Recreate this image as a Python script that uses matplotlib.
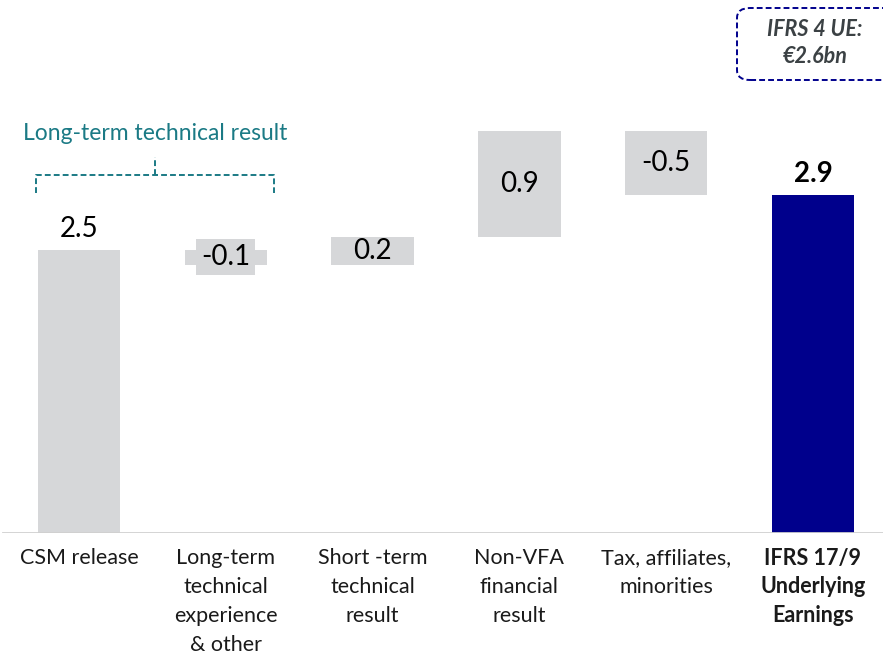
import numpy as np
import matplotlib.pyplot as plt
from matplotlib.patches import FancyBboxPatch

plt.rcParams['font.family'] = ['Lato', 'DejaVu Sans']

# data
categories = ["CSM release", "Long-term\ntechnical\nexperience\n& other",
              "Short -term\ntechnical\nresult", "Non-VFA\nfinancial\nresult",
              "Tax, affiliates,\nminorities", "IFRS 17/9\nUnderlying\nEarnings"]
steps = [2.43, -0.13, 0.24, 0.91, -0.55]
total = 2.9
value_labels = ["2.5", "-0.1", "0.2", "0.9", "-0.5", "2.9"]

grey = '#D6D7D9'
navy = '#00008C'
teal = '#1B7A85'

ends = np.cumsum(steps)
starts = np.concatenate([[0], ends[:-1]])
bottoms = np.minimum(starts, ends)
heights = np.abs(steps)

fig = plt.figure(figsize=(8.83, 6.55), dpi=100)
ax = fig.add_axes([0, 122 / 655, 1, 533 / 655])

x = np.arange(len(categories))
w = 0.56
ax.bar(x[:-1], heights, bottom=bottoms, width=w, color=grey)
ax.bar(x[-1], total, width=w, color=navy)

ax.set_xlim(-79 / 146.8, -79 / 146.8 + 883 / 146.8)
ax.set_ylim(0, 533 / 116.6)

# value labels
fs = 20
ax.text(x[0], ends[0] + 0.18, value_labels[0], ha='center', va='center', fontsize=fs)
ax.text(x[1], (starts[1] + ends[1]) / 2, value_labels[1], ha='center', va='center',
        fontsize=fs, bbox=dict(boxstyle='square,pad=0.18', fc=grey, ec='none'))
for i in (2, 3, 4):
    ax.text(x[i], (starts[i] + ends[i]) / 2, value_labels[i], ha='center', va='center', fontsize=fs)
ax.text(x[-1], total + 0.18, value_labels[-1], ha='center', va='center',
        fontsize=fs, fontweight='bold')

# axis styling
for s in ax.spines.values():
    s.set_visible(False)
ax.axhline(0, xmin=3 / 883, xmax=1, color='#D0D0D0', lw=2)
ax.set_yticks([])
ax.set_xticks(x)
ax.set_xticklabels(categories, fontsize=15.5, linespacing=1.55, color='#1a1a1a')
last = ax.get_xticklabels()[-1]
last.set_fontweight('bold')
last.set_linespacing(1.42)
ax.tick_params(axis='x', length=0, pad=11)

# bracket for long-term technical result
bx0, bx1 = x[0] - w / 2 - 0.015, x[1] + w / 2 + 0.05
by, byend, bytop = 3.07, 2.92, 3.225
ls = (0, (3, 1.6))
ax.plot([bx0, bx0, bx1, bx1], [byend, by, by, byend], color=teal, lw=1.4, ls=ls)
bmid = (bx0 + bx1) / 2
ax.plot([bmid, bmid], [by, bytop], color=teal, lw=1.4, ls=ls)
ax.text(bmid, 3.43, "Long-term technical result", ha='center', va='center',
        fontsize=16.5, color=teal)

# IFRS 4 box
box = FancyBboxPatch((737 / 883, 1 - 80 / 655), 160 / 883, 72 / 655,
                     boxstyle='round,pad=0,rounding_size=0.015',
                     transform=fig.transFigure, fc='none', ec=navy,
                     lw=1.4, ls=(0, (3, 1.6)), clip_on=False)
fig.patches.append(box)
fig.text(815 / 883, 1 - 43 / 655, "IFRS 4 UE:\n€2.6bn", ha='center', va='center',
         fontsize=15.5, fontweight='bold', style='italic', color='#3B4144',
         linespacing=1.35)

fig.savefig('out.png', dpi=100)
